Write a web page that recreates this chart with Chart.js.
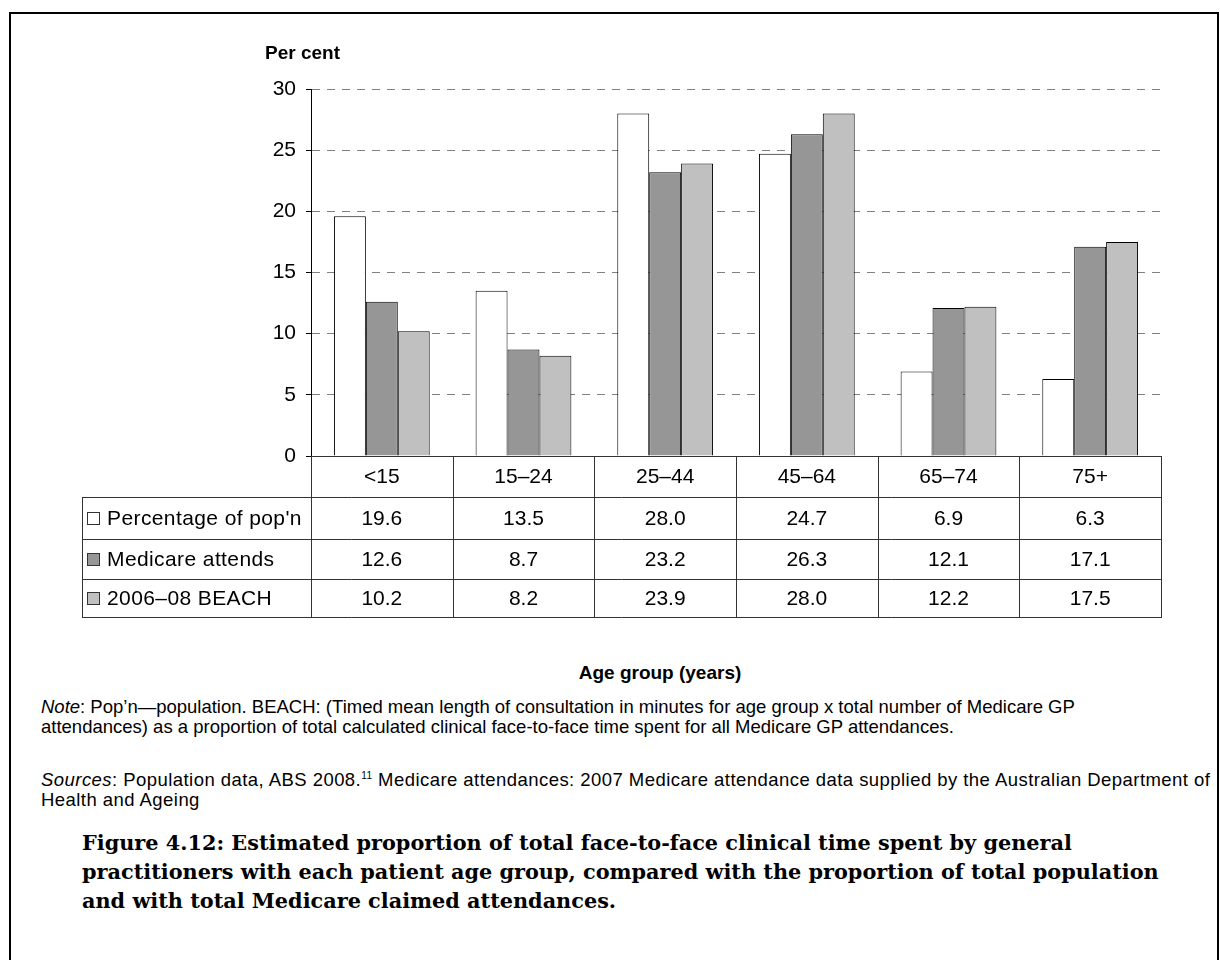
<!DOCTYPE html>
<html>
<head>
<meta charset="utf-8">
<script src="https://cdn.jsdelivr.net/npm/chart.js@4.4.1/dist/chart.umd.min.js"></script>
<style>
  body { margin: 0; background: #fff; font-family: "Liberation Sans", Arial, sans-serif; }
  #page { position: relative; width: 1220px; height: 960px; overflow: hidden; }
  #frame { position: absolute; left: 9px; top: 12px; width: 1206px; height: 1000px; border: 2px solid #000; }
  #chart { position: absolute; left: 0; top: 0; }
  .lbl { position: absolute; font-weight: bold; font-size: 19px; color: #000; }
  .note { position: absolute; left: 41px; width: 1175px; font-size: 18.5px; line-height: 20px; color: #000; white-space: nowrap; }
  #caption { position: absolute; left: 82px; top: 828px; width: 1130px; font-family: "DejaVu Serif", serif; font-weight: bold; font-size: 20.8px; line-height: 29px; white-space: nowrap; }
</style>
</head>
<body>
<div id="page">
  <div id="frame"></div>
  <canvas id="chart" width="1220" height="640"></canvas>
  <div class="lbl" style="left:265px; top:42px;">Per cent</div>
  <div class="lbl" style="left:0; width:1320px; top:662px; text-align:center;">Age group (years)</div>
  <div class="note" style="top:697px;"><i>Note</i>: Pop’n—population. BEACH: (Timed mean length of consultation in minutes for age group x total number of Medicare GP<br>attendances) as a proportion of total calculated clinical face-to-face time spent for all Medicare GP attendances.</div>
  <div class="note" style="top:766px; letter-spacing:0.45px;"><i>Sources</i>: Population data, ABS 2008.<sup style="font-size:10px;">11</sup> Medicare attendances: 2007 Medicare attendance data supplied by the Australian Department of<br>Health and Ageing</div>
  <div id="caption">Figure 4.12: Estimated proportion of total face-to-face clinical time spent by general<br>practitioners with each patient age group, compared with the proportion of total population<br>and with total Medicare claimed attendances.</div>
</div>
<script>
const ageGroups = ["<15", "15–24", "25–44", "45–64", "65–74", "75+"];
const seriesNames = ["Percentage of pop'n", "Medicare attends", "2006–08 BEACH"];
const popShare = [19.6, 13.5, 28.0, 24.7, 6.9, 6.3];
const medicareShare = [12.6, 8.7, 23.2, 26.3, 12.1, 17.1];
const beachShare = [10.2, 8.2, 23.9, 28.0, 12.2, 17.5];
const yTicks = [0, 5, 10, 15, 20, 25, 30];

const fills = ["#ffffff", "#969696", "#c0c0c0"];
const allSeries = [popShare, medicareShare, beachShare];
const FONT = '"Liberation Sans", Arial, sans-serif';

// table under the plot, columns follow the x scale
const dataTable = {
  id: "dataTable",
  afterDraw(chart) {
    const ctx = chart.ctx;
    const area = chart.chartArea;
    const x = chart.scales.x;
    const colW = (area.right - area.left) / ageGroups.length;
    const rows = [area.bottom, 497, 539, 579, 617];
    const tableLeft = 82;

    ctx.save();
    ctx.strokeStyle = "#333";
    ctx.lineWidth = 1;
    ctx.beginPath();
    ctx.moveTo(area.left, rows[0] + 0.5);
    ctx.lineTo(area.right, rows[0] + 0.5);
    for (let r = 1; r < rows.length; r++) {
      ctx.moveTo(tableLeft, rows[r] + 0.5);
      ctx.lineTo(area.right, rows[r] + 0.5);
    }
    for (let i = 0; i <= ageGroups.length; i++) {
      const cx = Math.round(area.left + i * colW) + 0.5;
      ctx.moveTo(cx, rows[0]);
      ctx.lineTo(cx, rows[4] + 1);
    }
    ctx.moveTo(tableLeft + 0.5, rows[1]);
    ctx.lineTo(tableLeft + 0.5, rows[4] + 1);
    ctx.stroke();

    ctx.fillStyle = "#000";
    ctx.font = "21px " + FONT;
    ctx.textAlign = "center";
    ctx.textBaseline = "middle";
    ageGroups.forEach((g, i) => {
      const cx = x.getPixelForValue(i);
      ctx.fillText(g, cx, (rows[0] + rows[1]) / 2 + 1);
      allSeries.forEach((s, k) => {
        ctx.fillText(s[i].toFixed(1), cx, (rows[k + 1] + rows[k + 2]) / 2 + 1);
      });
    });

    // legend keys in the first column
    ctx.textAlign = "left";
    ctx.letterSpacing = "0.4px";
    seriesNames.forEach((name, k) => {
      const cy = (rows[k + 1] + rows[k + 2]) / 2;
      ctx.fillStyle = fills[k];
      ctx.fillRect(87.5, cy - 5.5, 12, 12);
      ctx.strokeStyle = "#333";
      ctx.strokeRect(87.5, cy - 5.5, 12, 12);
      ctx.fillStyle = "#000";
      ctx.fillText(name, 107, cy + 1);
    });
    ctx.restore();
  }
};

new Chart(document.getElementById("chart").getContext("2d"), {
  type: "bar",
  data: {
    labels: ageGroups,
    datasets: seriesNames.map((name, k) => ({
      label: name,
      data: allSeries[k],
      backgroundColor: fills[k],
      borderColor: "#000",
      borderWidth: 1,
      categoryPercentage: 0.676,
      barPercentage: 1
    }))
  },
  options: {
    responsive: false,
    animation: false,
    devicePixelRatio: 1,
    layout: { padding: { top: 89, right: 59, bottom: 184, left: 0 } },
    plugins: { legend: { display: false }, tooltip: { enabled: false } },
    scales: {
      x: { display: false },
      y: {
        min: 0,
        max: 30,
        afterFit(scale) { scale.width = 311; },
        afterBuildTicks(scale) { scale.ticks = yTicks.map(v => ({ value: v })); },
        ticks: { color: "#000", font: { family: FONT, size: 21 }, padding: 10 },
        grid: { color: "#808080", lineWidth: 1, tickLength: 5, tickColor: "#000", tickBorderDash: [] },
        border: { color: "#000", width: 1, dash: [8, 7] }
      }
    }
  },
  plugins: [dataTable]
});
</script>
</body>
</html>
